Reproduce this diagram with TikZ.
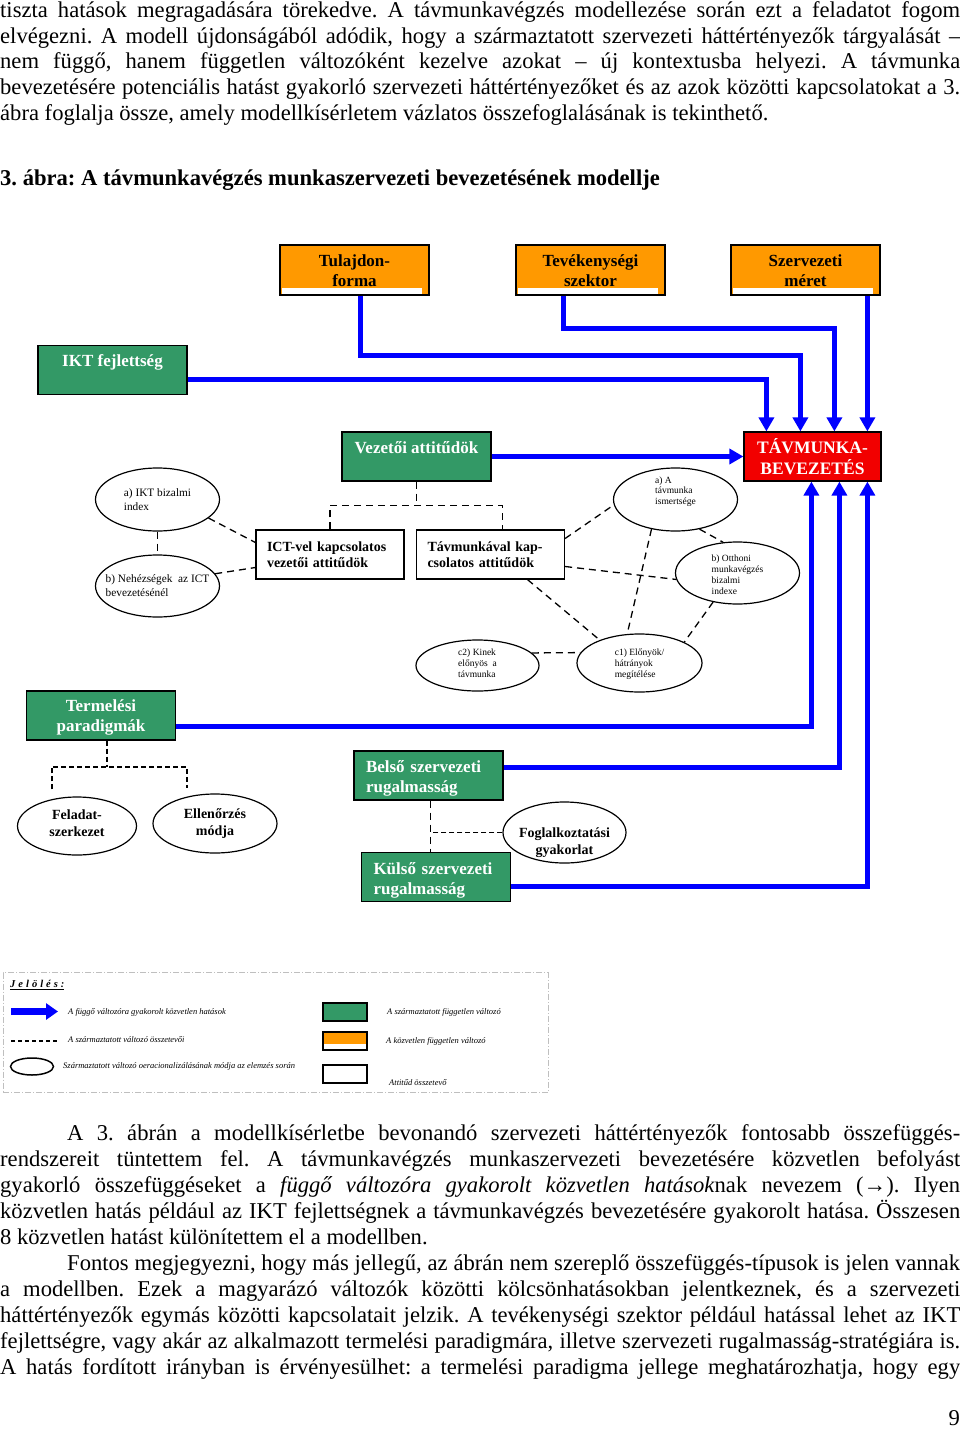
\documentclass[tikz,border=0pt]{standalone}
\usepackage{fontspec}
\setmainfont{Liberation Serif}
\usetikzlibrary{arrows.meta,shapes.geometric}
\frenchspacing

\definecolor{indepfill}{HTML}{FF9900}
\definecolor{derivfill}{HTML}{339966}
\definecolor{targetfill}{HTML}{F20000}
\definecolor{effblue}{HTML}{0000FF}

% text set inside an ellipse, without widening it (#2 raises it)
\newcommand{\elltext}[3][l]{\smash{\raisebox{#2}{\makebox[0pt]{\begin{tabular}{@{}#1@{}}#3\end{tabular}}}}}

\tikzset{
  bodyline/.style={anchor=base west, inner sep=0pt, font=\fontsize{22.6}{26}\selectfont},
  orangebox/.style={draw, line width=1.2pt, fill=indepfill, minimum width=149pt, minimum height=50pt,
    inner sep=0pt, align=center, text height=34pt, font=\fontsize{17}{20}\selectfont\bfseries,
    path picture={\fill[white] ([xshift=2pt,yshift=1.5pt]path picture bounding box.south west)
      rectangle ([xshift=-7pt,yshift=7pt]path picture bounding box.south east);}},
  greenbox/.style={draw, line width=1.2pt, fill=derivfill, text=white, minimum width=149pt, minimum height=49pt,
    inner sep=0pt, align=center, font=\fontsize{17}{20}\selectfont\bfseries},
  tavbox/.style={draw, line width=1.2pt, fill=targetfill, text=white, minimum width=137pt, minimum height=49pt,
    inner sep=0pt, align=center, font=\fontsize{17.5}{21}\selectfont\bfseries},
  attbox/.style={draw, line width=1.2pt, fill=white, minimum width=148pt, minimum height=49pt,
    inner sep=0pt, align=left, text width=126pt, font=\fontsize{14}{16}\selectfont\bfseries},
  ellnode/.style={draw, ellipse, line width=1.2pt, inner sep=0pt, minimum width=124pt, minimum height=62pt},
  boldell/.style={ellnode, font=\fontsize{14}{17}\selectfont\bfseries},
  effarrow/.style={draw=effblue, line width=5pt, -{Triangle[width=15pt,length=14pt]}},
  compline/.style={draw, line width=1.3pt, dash pattern=on 7pt off 5pt},
  shortdash/.style={draw, line width=1.8pt, dash pattern=on 5pt off 3pt},
  legtext/.style={anchor=west, inner sep=0pt, font=\fontsize{8.5}{10}\selectfont\itshape}
}

\begin{document}
\begin{tikzpicture}[x=1pt, y=-1pt]
    \useasboundingbox (0,0) rectangle (960,1429);

    % Text above the figure
    \foreach \linetxt [count=\i] in {
        {tiszta hatások megragadására törekedve. A távmunkavégzés modellezése során ezt a feladatot fogom},
        {elvégezni. A modell újdonságából adódik, hogy a származtatott szervezeti háttértényezők tárgyalását –},
        {nem függő, hanem független változóként kezelve azokat – új kontextusba helyezi. A távmunka},
        {bevezetésére potenciális hatást gyakorló szervezeti háttértényezőket és az azok közötti kapcsolatokat a 3.}} {
        \node[bodyline] (up\i) at (0,{17.5+25.75*(\i-1)}) {\makebox[960pt][s]{\linetxt}};
    }
    \node[bodyline] (up5) at (0,120.5) {ábra foglalja össze, amely modellkísérletem vázlatos összefoglalásának is tekinthető.};

    % Caption
    \node[bodyline, font=\fontsize{22.6}{26}\selectfont\bfseries] (caption) at (0,185)
        {3. ábra: A távmunkavégzés munkaszervezeti bevezetésének modellje};

    % Direct independent variables
    \node[orangebox] (tul) at (354.5,270) {Tulajdon-\\forma};
    \node[orangebox] (tev) at (590.5,270) {Tevékenységi\\szektor};
    \node[orangebox] (szm) at (805.5,270) {Szervezeti\\méret};

    % Derived variables and the dependent one
    \node[greenbox, text depth=18pt] (ikt) at (112.5,370) {IKT fejlettség};
    \node[greenbox, text depth=18pt] (vez) at (416.5,456.5) {Vezetői attitűdök};
    \node[tavbox] (tav) at (812.5,456.5) {TÁVMUNKA-\\BEVEZETÉS};
    \node[greenbox, text height=36pt] (ter) at (101,715.5) {Termelési\\paradigmák};
    \node[greenbox, text height=18pt, align=left, text width=125pt] (bel) at (428.5,775.5) {Belső szervezeti\\rugalmasság};
    \node[greenbox, text height=18pt, align=left, text width=125pt] (kul) at (436,877) {Külső szervezeti\\rugalmasság};

    % Attitude components
    \node[attbox] (ict) at (330,554.5) {ICT-vel kapcsolatos\\vezetői attitűdök};
    \node[attbox] (tma) at (490.5,554.5) {Távmunkával kap-\\csolatos attitűdök};

    % Operationalisation ellipses
    \node[ellnode, minimum height=63pt, font=\fontsize{11.3}{14}\selectfont] (ea1) at (157.5,499.5) {\elltext{-4pt}{a) IKT bizalmi\\index}};
    \node[ellnode, font=\fontsize{11.3}{14}\selectfont] (eb1) at (157.5,586) {\elltext{-3pt}{b) Nehézségek\ \ az ICT\\bevezetésénél}};
    \node[ellnode, minimum height=63pt, font=\fontsize{9.5}{10.5}\selectfont] (ea2) at (675.5,499.5) {\elltext{5.5pt}{a) A\\távmunka\\ismertsége}};
    \node[ellnode, font=\fontsize{9.5}{11}\selectfont] (eb2) at (737.5,573) {\elltext{-5.5pt}{b) Otthoni\\munkavégzés\\bizalmi\\indexe}};
    \node[ellnode, minimum width=125pt, minimum height=58pt, font=\fontsize{9.5}{11}\selectfont] (ec1) at (639.5,663) {\elltext{-4pt}{c1) Előnyök/\\hátrányok\\megítélése}};
    \node[ellnode, minimum width=123pt, minimum height=51pt, font=\fontsize{9.5}{11}\selectfont] (ec2) at (477.5,665.5) {\elltext{-1.5pt}{c2) Kinek\\előnyös\ \ a\\távmunka}};
    \node[boldell, minimum width=119pt, minimum height=58pt] (efs) at (77,826) {\elltext[c]{-2.5pt}{Feladat-\\szerkezet}};
    \node[boldell, minimum width=124pt, minimum height=59pt] (eem) at (215,823.5) {\elltext[c]{-4pt}{Ellenőrzés\\módja}};
    \node[boldell, minimum width=123pt, minimum height=61pt] (efg) at (564.5,832.5) {\elltext[c]{-14pt}{Foglalkoztatási\\gyakorlat}};

    % Entry points on the dependent variable
    \coordinate (tin1) at ([xshift=23pt]tav.north west);
    \coordinate (tin2) at ([xshift=57pt]tav.north west);
    \coordinate (tin3) at ([xshift=91pt]tav.north west);
    \coordinate (tin4) at ([xshift=124pt]tav.north west);
    \coordinate (tbo1) at ([xshift=68pt]tav.south west);
    \coordinate (tbo2) at ([xshift=96pt]tav.south west);
    \coordinate (tbo3) at ([xshift=124pt]tav.south west);

    % Direct effects
    \draw[effarrow] ([xshift=-27pt]tev.south) -- ++(0,33) -| (tin3);
    \draw[effarrow] ([xshift=6pt]tul.south) -- ++(0,60) -| (tin2);
    \draw[effarrow] ([yshift=-9pt]ikt.east) -| (tin1);
    \draw[effarrow] (szm.south -| tin4) -- (tin4);
    \draw[effarrow] (vez.east) -- (tav.west);
    \draw[effarrow] ([yshift=-11pt]ter.east) -| (tbo1);
    \draw[effarrow] ([yshift=8pt]bel.east) -| (tbo2);
    \draw[effarrow] ([yshift=-9pt]kul.east) -| (tbo3);

    % Components of the derived variables
    \draw[compline] (ea1.south) -- (eb1.north);
    \draw[compline] (ea1.-20) -- ([yshift=12pt]ict.west);
    \draw[compline] (eb1.12) -- ([yshift=-13pt]ict.west);
    \draw[compline] (vez.south) -- ++(0,24) coordinate (vj);
    \draw[compline] (ict.north) |- (vj) -| ([xshift=12pt]tma.north);
    \draw[compline] ([yshift=16pt]tma.east) -- (ea2.185);
    \draw[compline] ([yshift=-12pt]tma.east) -- (eb2.186);
    \draw[compline] ([xshift=37pt]tma.south) -- (ec1.150);
    \draw[compline] (ea2.-51) -- (eb2.115);
    \draw[compline] (ea2.-129) -- (ec1.113);
    \draw[compline] (eb2.-130) -- (ec1.25);
    \draw[compline] (ec2.13) -- (ec1.170);

    \draw[shortdash] ([xshift=6pt]ter.south) -- ++(0,26) coordinate (tj);
    \coordinate (fsend) at ([xshift=-25pt,yshift=7pt]efs.north);
    \coordinate (emend) at ([xshift=-28pt,yshift=5pt]eem.north);
    \draw[shortdash] (fsend) |- (tj) -| (emend);

    \coordinate (beldrop) at ([xshift=2pt]bel.south);
    \draw[compline] (beldrop) -- (beldrop |- kul.north);
    \draw[shortdash] (efg.west) -- (efg.west -| beldrop);

    % Legend
    \node[draw=gray!50, line width=0.8pt, dash pattern=on 6pt off 2pt on 1pt off 2pt,
        minimum width=545pt, minimum height=120pt, inner sep=0pt] (legend) at (275.5,1032.5) {};
    \node[anchor=west, inner sep=0pt, font=\fontsize{10.5}{12}\selectfont\bfseries\itshape] (jel) at (10,985)
        {\underline{J\kern3pt e\kern3pt l\kern3pt ö\kern3pt l\kern3pt é\kern3pt s\kern3pt :}};
    \draw[effblue, line width=7pt, -{Triangle[width=16pt,length=12pt]}] (11,1011.5) -- (58,1011.5);
    \draw[line width=1.2pt, dash pattern=on 4pt off 3pt] (11,1041) -- (59,1041);
    \draw[line width=1.5pt] (32,1066.5) ellipse (21.5 and 8.5);
    \draw[fill=derivfill, line width=1.5pt] (323,1003) rectangle (367,1021);
    \fill[indepfill] (323,1032) rectangle (367,1043.5);
    \draw[line width=1.5pt] (323,1032) rectangle (367,1050);
    \draw[line width=1.5pt] (323,1065) rectangle (367,1083);
    \node[legtext] (lg1) at (68,1012) {A függő változóra gyakorolt közvetlen hatások};
    \node[legtext] (lg2) at (68,1040) {A származtatott változó összetevői};
    \node[legtext] (lg3) at (63,1066) {Származtatott változó oeracionalizálásának módja az elemzés során};
    \node[legtext] (lg4) at (387,1012) {A származtatott független változó};
    \node[legtext] (lg5) at (386,1041) {A közvetlen független változó};
    \node[legtext] (lg6) at (389,1083) {Attitűd összetevő};

    % Text below the figure
    \node[bodyline] (low1) at (67,1140) {\makebox[893pt][s]{A 3. ábrán a modellkísérletbe bevonandó szervezeti háttértényezők fontosabb összefüggés-}};
    \foreach \linetxt [count=\i from 2] in {
        {rendszereit tüntettem fel. A távmunkavégzés munkaszervezeti bevezetésére közvetlen befolyást},
        {gyakorló összefüggéseket a \textit{függő változóra gyakorolt közvetlen hatások}nak nevezem (→). Ilyen},
        {közvetlen hatás például az IKT fejlettségnek a távmunkavégzés bevezetésére gyakorolt hatása. Összesen}} {
        \node[bodyline] (low\i) at (0,{1140+26*(\i-1)}) {\makebox[960pt][s]{\linetxt}};
    }
    \node[bodyline] (low5) at (0,1244) {8 közvetlen hatást különítettem el a modellben.};
    \node[bodyline] (low6) at (67,1270) {\makebox[893pt][s]{Fontos megjegyezni, hogy más jellegű, az ábrán nem szereplő összefüggés-típusok is jelen vannak}};
    \foreach \linetxt [count=\i from 7] in {
        {a modellben. Ezek a magyarázó változók közötti kölcsönhatásokban jelentkeznek, és a szervezeti},
        {háttértényezők egymás közötti kapcsolatait jelzik. A tevékenységi szektor például hatással lehet az IKT},
        {fejlettségre, vagy akár az alkalmazott termelési paradigmára, illetve szervezeti rugalmasság-stratégiára is.},
        {A hatás fordított irányban is érvényesülhet: a termelési paradigma jellege meghatározhatja, hogy egy}} {
        \node[bodyline] (low\i) at (0,{1140+26*(\i-1)}) {\makebox[960pt][s]{\linetxt}};
    }

    % Page number
    \node[bodyline, anchor=base east] (pageno) at (960,1425) {9};
\end{tikzpicture}
\end{document}
